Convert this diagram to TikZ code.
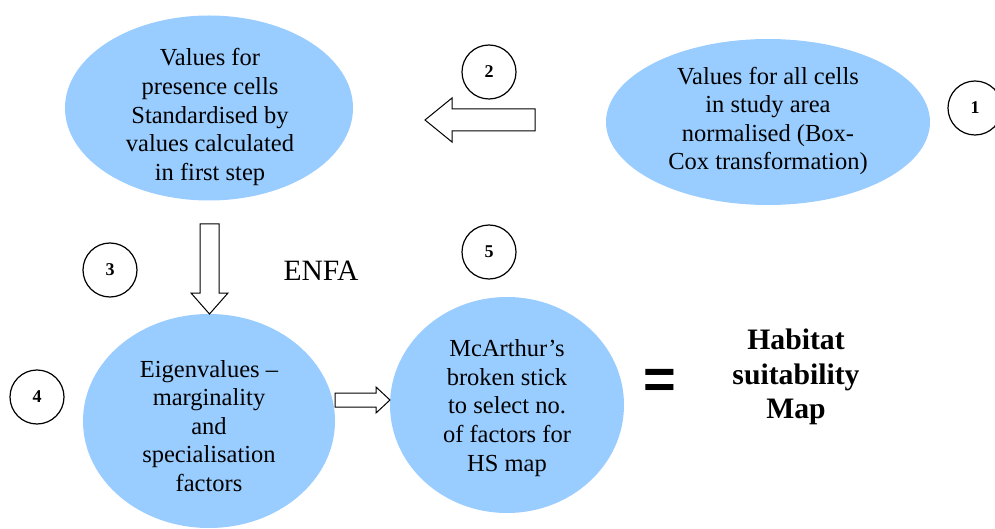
\documentclass[tikz,border=0pt]{standalone}
\usepackage{fontspec}
\setmainfont{Liberation Serif}
\newfontfamily\eqfont{Liberation Sans}
\usetikzlibrary{shapes.geometric}
\definecolor{cellblue}{RGB}{153,204,255}
\begin{document}
\begin{tikzpicture}[x=1pt,y=-1pt,
  blob/.style={ellipse,fill=cellblue,draw=none,inner sep=0pt},
  body/.style={align=center,font=\fontsize{24.5}{28.6}\selectfont,inner sep=0pt},
  num/.style={circle,draw,line width=1.2pt,minimum size=54pt,inner sep=0pt,font=\bfseries\fontsize{18}{18}\selectfont},
  blockarrow/.style={draw,line width=1pt,fill=white,line join=miter}]
\useasboundingbox (0,0) rectangle (995,529);
% ellipses
\node[blob,minimum width=288pt,minimum height=185pt] (A) at (209,108) {};
\node[blob,minimum width=324pt,minimum height=166pt] (B) at (768,122) {};
\node[blob,minimum width=252pt,minimum height=214pt] (C) at (209,421) {};
\node[blob,minimum width=234pt,minimum height=216pt] (D) at (507,405) {};
% texts
\node[body] (At) at (210,117) {Values for\\presence cells\\Standardised by\\values calculated\\in first step};
\node[body] (Bt) at (768,121) {Values for all cells\\in study area\\normalised (Box-\\Cox transformation)};
\node[body] (Ct) at (209,426) {Eigenvalues --\\marginality\\and\\specialisation\\factors};
\node[body] (Dt) at (507,408) {McArthur’s\\broken stick\\to select no.\\of factors for\\HS map};
\node[font=\fontsize{29.5}{29.5}\selectfont,inner sep=0pt] (enfa) at (321,271) {ENFA};
\node[align=center,font=\bfseries\fontsize{29.7}{34.5}\selectfont,inner sep=0pt] (hs) at (796,377) {Habitat\\suitability\\Map};
\node[font=\eqfont\bfseries\fontsize{56}{56}\selectfont,inner sep=0pt] (eq) at (660,384) {=};
% numbered circles
\node[num] (n1) at (975,108) {1};
\node[num] (n2) at (489,72) {2};
\node[num] (n3) at (110,270) {3};
\node[num] (n4) at (37,397) {4};
\node[num] (n5) at (489,252) {5};
% block arrows
\draw[blockarrow] (535,109) -- (452,109) -- (452,98) -- (425,120) -- (452,142) -- (452,131) -- (535,131) -- cycle;
\draw[blockarrow] (200,224) -- (219,224) -- (219,293) -- (228,293) -- (209.5,314) -- (191,293) -- (200,293) -- cycle;
\draw[blockarrow] (335,393) -- (376,393) -- (376,387) -- (390,400) -- (376,413) -- (376,407) -- (335,407) -- cycle;
\end{tikzpicture}
\end{document}
